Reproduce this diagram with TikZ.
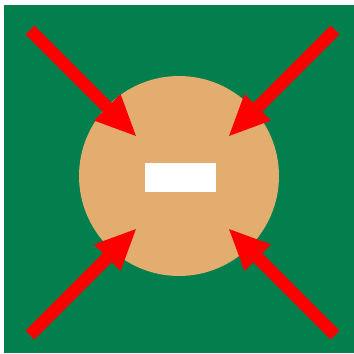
\documentclass[tikz,border=0pt]{standalone}
\usepackage{tikz}
\usetikzlibrary{arrows.meta}
\definecolor{board}{HTML}{037E4D}
\definecolor{pad}{HTML}{E4AD70}

\begin{document}
\begin{tikzpicture}[x=0.02cm, y=-0.02cm,
		push/.style={-{Triangle[length=0.84cm,width=0.68cm]}, draw=red, line width=0.25cm}]
			\useasboundingbox (0,0) rectangle (354,353);
			\fill[board] (4,5) rectangle (354,353);
			\node[circle, fill=pad, inner sep=0, minimum size=4cm] (disc) at (179,176) {};
			\node[rectangle, fill=white, inner sep=0, minimum width=1.42cm, minimum height=0.58cm] (slot) at (180.5,177.5) {};

			\coordinate (tl) at (30,30);
			\coordinate (tr) at (335,30);
			\coordinate (bl) at (30,335);
			\coordinate (br) at (335,335);
			\coordinate (tlend) at (137,137);
			\coordinate (trend) at (228,137);
			\coordinate (blend) at (137,228);
			\coordinate (brend) at (228,228);

			\path
			(tl) edge[push] (tlend)
			(tr) edge[push] (trend)
			(bl) edge[push] (blend)
			(br) edge[push] (brend);
		\end{tikzpicture}
\end{document}
